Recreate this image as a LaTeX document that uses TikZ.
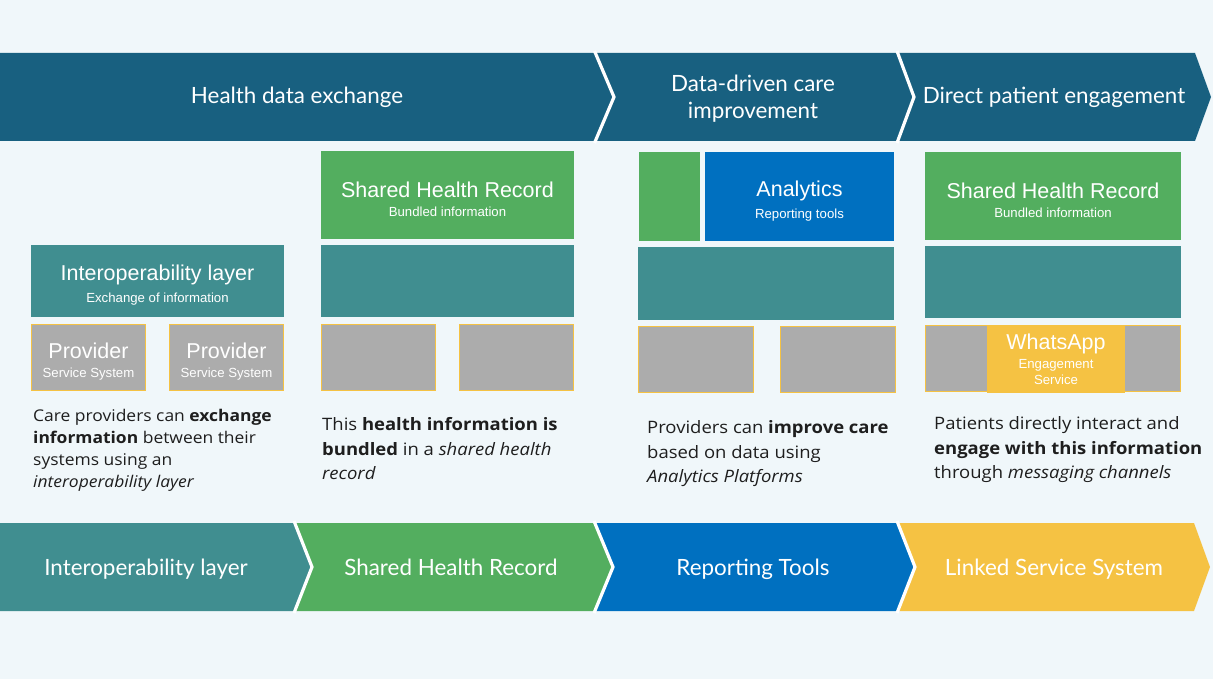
\documentclass[tikz,border=0pt]{standalone}
\usepackage{fontspec}
\setmainfont{Lato}
\newfontfamily\boxfont{Liberation Sans}
\newfontfamily\bodyfont[FakeStretch=1.08]{Open Sans}
\definecolor{bg}{RGB}{240,247,250}
\definecolor{navy}{RGB}{24,96,128}
\definecolor{teal}{RGB}{64,142,144}
\definecolor{grn}{RGB}{83,174,95}
\definecolor{blu}{RGB}{0,112,192}
\definecolor{yel}{RGB}{245,194,67}
\definecolor{gry}{RGB}{172,172,172}
\definecolor{ink}{RGB}{30,30,30}
\newcommand{\ttl}{\boxfont\fontsize{21.5}{24}\selectfont\rule{0pt}{24pt}}
\newcommand{\sbt}{\boxfont\fontsize{13.2}{16}\selectfont}
\begin{document}
\begin{tikzpicture}[x=1pt,y=-1pt,
  sep/.style={white,line width=3.2pt,line join=miter},
  bantext/.style={text=white,font=\fontsize{22.4}{27}\selectfont,align=center,inner sep=0pt,anchor=base},
  blk/.style={inner sep=0pt,text=white,align=center,draw=none},
  tealbox/.style={blk,fill=teal},
  grnbox/.style={blk,fill=grn},
  blubox/.style={blk,fill=blu},
  yelbox/.style={blk,fill=yel},
  grybox/.style={blk,fill=gry,draw=yel,line width=1.5pt},
  body/.style={text=ink,font=\bodyfont\fontsize{16.15}{22}\selectfont,align=left,inner sep=0pt,anchor=north west},
  bodyb/.style={body,font=\bodyfont\fontsize{17.1}{24.5}\selectfont}
]
\useasboundingbox (0,0) rectangle (1213,679);
\fill[bg] (0,0) rectangle (1213,679);
% ---- top banner ----
\fill[navy] (0,53) -- (1195,53) -- (1211,97) -- (1195,141) -- (0,141) -- cycle;
\draw[sep] (594.5,51) -- (614,97) -- (594.5,143);
\draw[sep] (897,51) -- (914,97) -- (897,143);
\node[bantext] (t1) at (297,104) {Health data exchange};
\node[bantext,anchor=center] (t2) at (753,99) {Data-driven care\\improvement};
\node[bantext] (t3) at (1054,104) {Direct patient engagement};
% ---- bottom banner ----
\fill[teal] (0,523) -- (294,523) -- (312,567) -- (294,611) -- (0,611) -- cycle;
\fill[grn] (294,523) -- (594,523) -- (613,567) -- (594,611) -- (294,611) -- (312,567) -- cycle;
\fill[blu] (594,523) -- (897,523) -- (915,567) -- (897,611) -- (594,611) -- (613,567) -- cycle;
\fill[yel] (897,523) -- (1194,523) -- (1210,567) -- (1194,611) -- (897,611) -- (915,567) -- cycle;
\draw[sep] (294,521) -- (312,567) -- (294,613);
\draw[sep] (594,521) -- (613,567) -- (594,613);
\draw[sep] (897,521) -- (915,567) -- (897,613);
\node[bantext] (b1) at (146,575.5) {Interoperability layer};
\node[bantext] (b2) at (451,575.5) {Shared Health Record};
\node[bantext] (b3) at (753,575.5) {Reporting Tools};
\node[bantext] (b4) at (1054,575.5) {Linked Service System};
% ---- column 1 ----
\node[tealbox,minimum width=253pt,minimum height=72pt] (il) at (157.5,281) {\ttl Interoperability layer\\[7pt]\sbt Exchange of information};
\node[grybox,minimum width=114pt,minimum height=66pt] (p1) at (88.5,357.5) {\ttl Provider\\[7pt]\sbt Service System};
\node[grybox,minimum width=114pt,minimum height=66pt] (p2) at (226.5,357.5) {\ttl Provider\\[7pt]\sbt Service System};
\node[body] (d1) at (33,409) {Care providers can \textbf{exchange}\\\textbf{information} between their\\systems using an\\\textit{interoperability layer}};
% ---- column 2 ----
\node[grnbox,minimum width=253pt,minimum height=88pt] (s2) at (447.5,195) {\ttl Shared Health Record\\[7pt]\sbt Bundled information};
\node[tealbox,minimum width=253pt,minimum height=72pt] (i2) at (447.5,281) {};
\node[grybox,minimum width=114pt,minimum height=66pt] (g2a) at (378.5,357.5) {};
\node[grybox,minimum width=114pt,minimum height=66pt] (g2b) at (516.5,357.5) {};
\node[bodyb] (d2) at (322,417.5) {This \textbf{health information is}\\\textbf{bundled} in a \textit{shared health}\\\textit{record}};
% ---- column 3 ----
\node[grnbox,minimum width=61pt,minimum height=89pt] (s3) at (669.5,196.5) {};
\node[blubox,minimum width=189pt,minimum height=89pt] (an) at (799.5,196.5) {\ttl Analytics\\[7pt]\sbt Reporting tools};
\node[tealbox,minimum width=256pt,minimum height=73pt] (i3) at (766,283.5) {};
\node[grybox,minimum width=115pt,minimum height=66pt] (g3a) at (696,359.5) {};
\node[grybox,minimum width=115pt,minimum height=66pt] (g3b) at (838,359.5) {};
\node[bodyb] (d3) at (647,420.5) {Providers can \textbf{improve care}\\based on data using\\\textit{Analytics Platforms}};
% ---- column 4 ----
\node[grnbox,minimum width=256pt,minimum height=88pt] (s4) at (1053,196) {\ttl Shared Health Record\\[7pt]\sbt Bundled information};
\node[tealbox,minimum width=256pt,minimum height=72pt] (i4) at (1053,282) {};
\node[grybox,minimum width=255pt,minimum height=66pt] (g4) at (1053,358.5) {};
\node[yelbox,minimum width=138pt,minimum height=68pt] (wa) at (1056,359) {{\boxfont\fontsize{21.5}{24}\selectfont WhatsApp}\\[5pt]\sbt Engagement\\[2pt]\sbt Service};
\node[bodyb] (d4) at (934,416.5) {Patients directly interact and\\\textbf{engage with this information}\\through \textit{messaging channels}};
\end{tikzpicture}
\end{document}
